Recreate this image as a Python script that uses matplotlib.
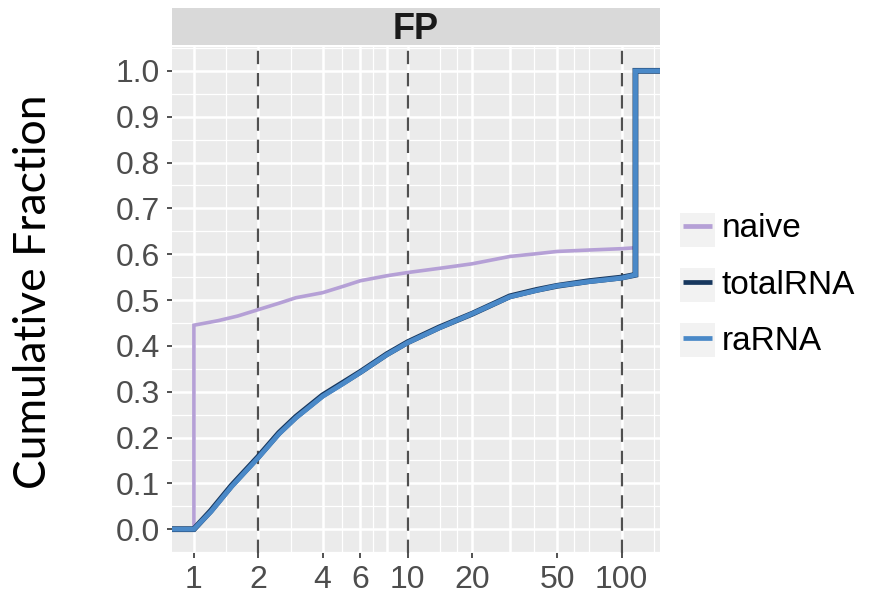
import numpy as np
import matplotlib
matplotlib.use('Agg')
import matplotlib.pyplot as plt
from matplotlib.patches import Rectangle

# ECDF (x on a log scale, padded to the panel edges)
X_LO, X_HI = 0.79, 151.0

naive_x = [X_LO, 1.0, 1.0, 1.3, 1.6, 2.0, 2.5, 3.0, 4.0, 5.0, 6.0, 8.0, 10.0,
           14.0, 20.0, 30.0, 40.0, 50.0, 70.0, 100.0, 116.0, 116.0, X_HI]
naive_y = [0.0, 0.0, 0.445, 0.455, 0.465, 0.479, 0.493, 0.505, 0.516, 0.530,
           0.542, 0.553, 0.560, 0.569, 0.579, 0.595, 0.601, 0.606, 0.609,
           0.612, 0.614, 1.0, 1.0]

total_x = [X_LO, 1.0, 1.2, 1.5, 2.0, 2.5, 3.0, 4.0, 5.0, 6.0, 8.0, 10.0,
           14.0, 20.0, 30.0, 40.0, 50.0, 70.0, 100.0, 116.0, 116.0, X_HI]
total_y = [0.0, 0.0, 0.04, 0.095, 0.158, 0.210, 0.245, 0.292, 0.320, 0.343,
           0.382, 0.408, 0.440, 0.470, 0.508, 0.522, 0.531, 0.541, 0.549,
           0.555, 1.0, 1.0]

ra_x = total_x
ra_y = [0.0, 0.0, 0.038, 0.093, 0.156, 0.208, 0.243, 0.290, 0.318, 0.342,
        0.381, 0.407, 0.439, 0.470, 0.507, 0.521, 0.531, 0.540, 0.548,
        0.555, 1.0, 1.0]

x_breaks = [1, 2, 4, 6, 10, 20, 50, 100]
x_grid_major = [1, 2, 4, 6, 8, 10, 20, 30, 50, 100]
x_grid_minor = [1.41, 2.83, 4.9, 6.9, 14.1, 17.0, 39.0, 60.0, 70.7, 141.0]
x_marks = [2, 10, 100]
y_breaks = np.round(np.arange(0, 1.01, 0.1), 1)
y_minor = np.round(np.arange(-0.05, 1.06, 0.1), 2)

series = [('naive', naive_x, naive_y, '#b5a0d6', 2.6),
          ('totalRNA', total_x, total_y, '#17375e', 4.2),
          ('raRNA', ra_x, ra_y, '#4a89c8', 3.5)]

plt.rcParams['font.family'] = ['Liberation Sans', 'DejaVu Sans']

fig = plt.figure(figsize=(8.71, 5.99), dpi=100)
ax = fig.add_axes([0.1975, 0.0768, 0.5602, 0.8447])
ax.set_facecolor('#ebebeb')
ax.set_xscale('log')
ax.set_xlim(X_LO, X_HI)
ax.set_ylim(-0.052, 1.052)

for v in x_grid_major:
    ax.axvline(v, color='white', lw=1.8, zorder=0.5)
for v in x_grid_minor:
    ax.axvline(v, color='white', lw=0.9, zorder=0.5)
for v in y_breaks:
    ax.axhline(v, color='white', lw=1.8, zorder=0.5)
for v in y_minor:
    ax.axhline(v, color='white', lw=0.9, zorder=0.5)

for v in x_marks:
    ax.axvline(v, color='#505050', lw=1.6, ls=(0, (6, 4)), zorder=1)

handles = []
for name, xs, ys, col, lw in series:
    h, = ax.plot(xs, ys, color=col, lw=lw, label=name, zorder=2,
                 solid_joinstyle='miter', solid_capstyle='butt')
    handles.append(h)

ax.set_xticks(x_breaks)
ax.set_xticklabels([str(b) for b in x_breaks])
ax.xaxis.set_minor_locator(matplotlib.ticker.NullLocator())
ax.set_yticks(y_breaks)
ax.set_yticklabels([f'{b:.1f}' for b in y_breaks])
ax.tick_params(axis='both', colors='#333333', labelcolor='#4d4d4d',
               labelsize=23, length=3.5, width=1.2)
ax.tick_params(axis='x', pad=5)
ax.tick_params(axis='y', pad=5)
for s in ax.spines.values():
    s.set_visible(False)

# facet strip
strip = fig.add_axes([0.1975, 0.9249, 0.5602, 0.0617])
strip.set_facecolor('#d9d9d9')
strip.set_xticks([]); strip.set_yticks([])
for s in strip.spines.values():
    s.set_visible(False)
strip.text(0.5, 0.42, 'FP', ha='center', va='center', fontsize=26,
           fontweight='bold', color='#1a1a1a', transform=strip.transAxes)

fig.text(0.038, 0.5125, 'Cumulative Fraction', rotation=90, ha='center',
         va='center', fontsize=32, family=['Lato', 'DejaVu Sans'])

# legend with grey key backgrounds
leg = fig.legend(handles=handles, loc='center left',
                 bbox_to_anchor=(0.784, 0.5242), frameon=False, fontsize=24,
                 handlelength=0.87, handletextpad=0.3, labelspacing=0.76,
                 borderpad=0, borderaxespad=0)
for h in leg.legend_handles:
    h.set_linewidth(3.4)
for yc in [230, 285, 340]:
    fig.patches.append(Rectangle((680 / 871, 1 - (yc + 17) / 599), 35 / 871, 34 / 599,
                                 transform=fig.transFigure, facecolor='#f2f2f2',
                                 edgecolor='none', zorder=0))

fig.savefig('out.png', dpi=100)
